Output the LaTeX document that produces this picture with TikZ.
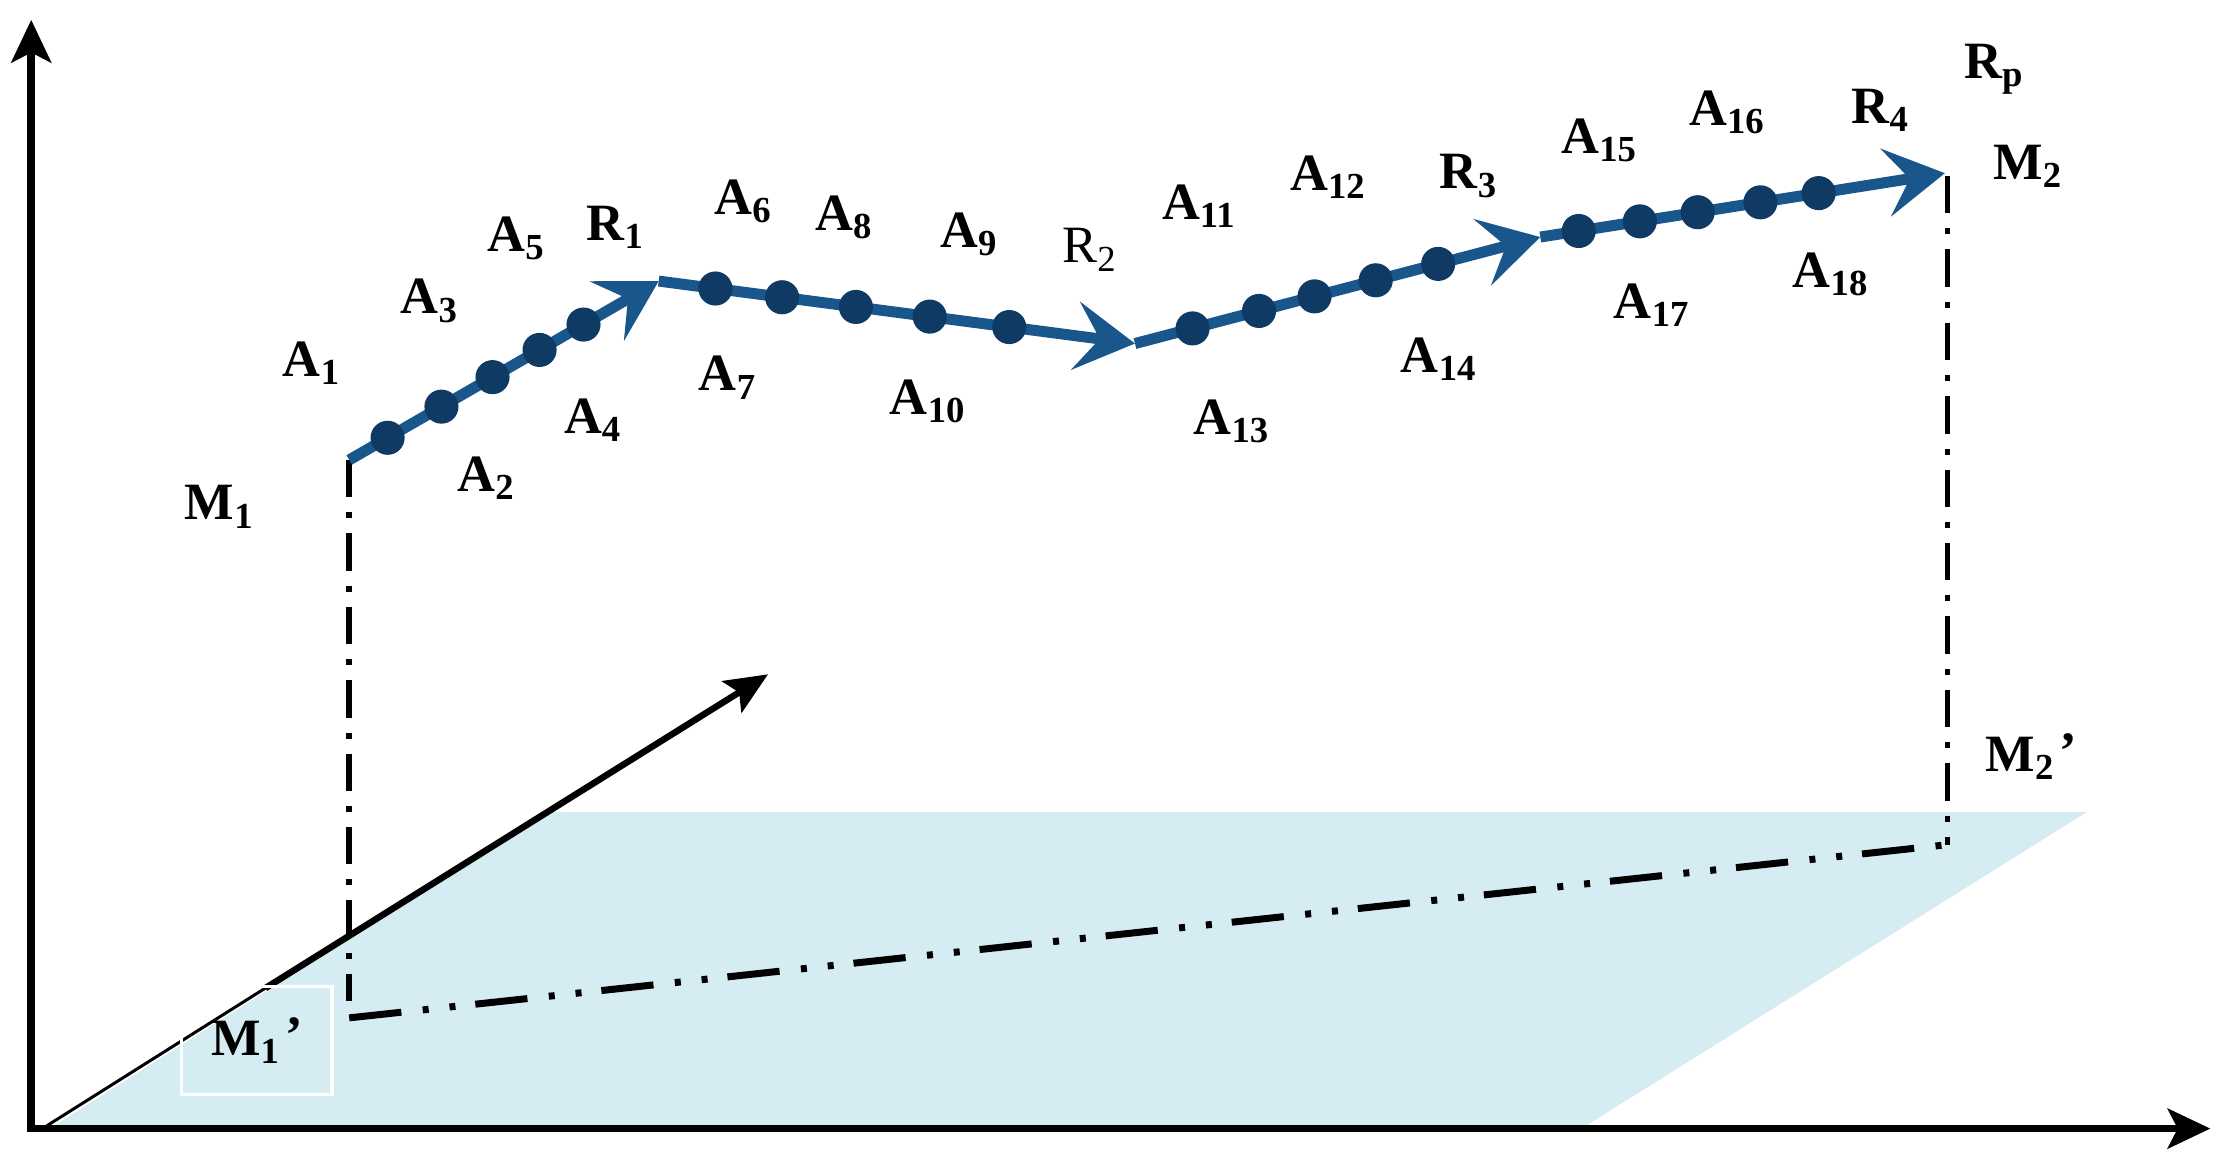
\documentclass[tikz,border=0pt]{standalone}
\usepackage{fontspec}
\setmainfont{Liberation Serif}
\usetikzlibrary{arrows.meta,calc}
\definecolor{planeblue}{RGB}{213,236,243}
\definecolor{pathblue}{RGB}{24,86,140}
\definecolor{dotblue}{RGB}{14,58,100}
\tikzset{
  lbl/.style={font=\fontsize{10.5}{12}\selectfont\bfseries, inner sep=0pt},
  axisline/.style={line width=1.5pt, line cap=rect, -{Stealth[length=0.3cm,width=0.28cm,inset=0.07cm]}},
  route/.style={draw=pathblue, line width=2.2pt, -{Stealth[length=0.42cm,width=0.48cm,inset=0.17cm,fill=pathblue]}},
  waypt/.style={circle, fill=dotblue, inner sep=0pt, minimum size=0.24cm},
  proj/.style={line width=1.1pt, dash pattern=on 7.5pt off 3pt on 1.2pt off 3pt},
  ground/.style={line width=1.4pt, dash pattern=on 10.5pt off 4.3pt on 1.2pt off 4.2pt on 1.2pt off 4pt},
}
\begin{document}
\begin{tikzpicture}[x=0.01cm,y=-0.01cm]
\useasboundingbox (0,0) rectangle (1568,825);
% ground plane
\fill[planeblue] (35,795) -- (1114,795) -- (1470,572) -- (386,572) -- cycle;
% axes
\coordinate (O) at (22,795);
\coordinate (Ztip) at (22,14);
\coordinate (Xtip) at (1557,795);
\coordinate (D0) at (33,793);
\coordinate (Dmid) at (187,696);
\coordinate (Ytip) at (541,475);
\draw[axisline] (O) -- (Ztip);
\draw[axisline] (O) -- (Xtip);
\draw[line width=0.6pt] (D0) -- (Dmid);
\draw[line width=1.3pt, -{Stealth[length=0.3cm,width=0.26cm,inset=0.06cm]}] (Dmid) -- (Ytip);
% key points
\coordinate (M1) at (246,324);
\coordinate (R1) at (464,198);
\coordinate (R2) at (799.5,242);
\coordinate (R3) at (1085,167);
\coordinate (M2) at (1370,122);
\coordinate (M1low) at (246,705);
\coordinate (M1p) at (246,717);
\coordinate (M2p) at (1372,595);
\coordinate (M2top) at (1372,124);
% projections
\draw[proj] (M1) -- (M1low);
\draw[proj] (M2top) -- (M2p);
\draw[ground] (M1p) -- (M2p);
% M1' box
\node[draw=white, line width=0.7pt, minimum width=1.06cm, minimum height=0.76cm, inner sep=0pt,
      font=\fontsize{10.5}{12}\selectfont\bfseries] (lM1p) at (181,733) {M\textsubscript{1}\kern0.8pt\raisebox{0.6pt}{’}};
% route
\draw[route] (M1) -- (R1);
\draw[route] (R1) -- (R2);
\draw[route] (R2) -- (R3);
\draw[route] (R3) -- (M2);
% way points
\foreach \n/\t in {1/0.124, 2/0.298, 3/0.463, 4/0.615, 5/0.757}
  \node[waypt] (d\n) at ($(M1)!\t!(R1)$) {};
\foreach \n/\t in {6/0.119, 7/0.259, 8/0.414, 9/0.569, 10/0.736}
  \node[waypt] (d\n) at ($(R1)!\t!(R2)$) {};
\foreach \n/\t in {11/0.142, 12/0.306, 13/0.443, 14/0.594, 15/0.748}
  \node[waypt] (d\n) at ($(R2)!\t!(R3)$) {};
\foreach \n/\t in {16/0.095, 17/0.246, 18/0.389, 19/0.544, 20/0.688}
  \node[waypt] (d\n) at ($(R3)!\t!(M2)$) {};
% labels
\node[lbl] (lM1) at (155,357) {M\textsubscript{1}};
\node[lbl] (lA1) at (220,256) {A\textsubscript{1}};
\node[lbl] (lA2) at (343,337) {A\textsubscript{2}};
\node[lbl] (lA3) at (303,212) {A\textsubscript{3}};
\node[lbl] (lA4) at (418,296) {A\textsubscript{4}};
\node[lbl] (lA5) at (364,168) {A\textsubscript{5}};
\node[lbl] (lR1) at (434,160) {R\textsubscript{1}};
\node[lbl] (lA6) at (524,142) {A\textsubscript{6}};
\node[lbl] (lA7) at (513,266) {A\textsubscript{7}};
\node[lbl] (lA8) at (595,153) {A\textsubscript{8}};
\node[lbl] (lA9) at (683,165) {A\textsubscript{9}};
\node[lbl, font=\fontsize{10.5}{12}\selectfont\mdseries] (lR2) at (768,176) {R\textsubscript{2}};
\node[lbl] (lA10) at (654,283) {A\textsubscript{10}};
\node[lbl] (lA11) at (845,145) {A\textsubscript{11}};
\node[lbl] (lA12) at (936,125) {A\textsubscript{12}};
\node[lbl] (lA13) at (868,297) {A\textsubscript{13}};
\node[lbl] (lA14) at (1014,253) {A\textsubscript{14}};
\node[lbl] (lR3) at (1035,124) {R\textsubscript{3}};
\node[lbl] (lA15) at (1127,99) {A\textsubscript{15}};
\node[lbl] (lA16) at (1217,79) {A\textsubscript{16}};
\node[lbl] (lA17) at (1164,215) {A\textsubscript{17}};
\node[lbl] (lA18) at (1290,193) {A\textsubscript{18}};
\node[lbl] (lR4) at (1325,78) {R\textsubscript{4}};
\node[lbl] (lRp) at (1405,49) {R\textsubscript{p}};
\node[lbl] (lM2) at (1429,117) {M\textsubscript{2}};
\node[lbl] (lM2p) at (1431,533) {M\textsubscript{2}\kern0.8pt\raisebox{0.6pt}{’}};
\end{tikzpicture}
\end{document}
